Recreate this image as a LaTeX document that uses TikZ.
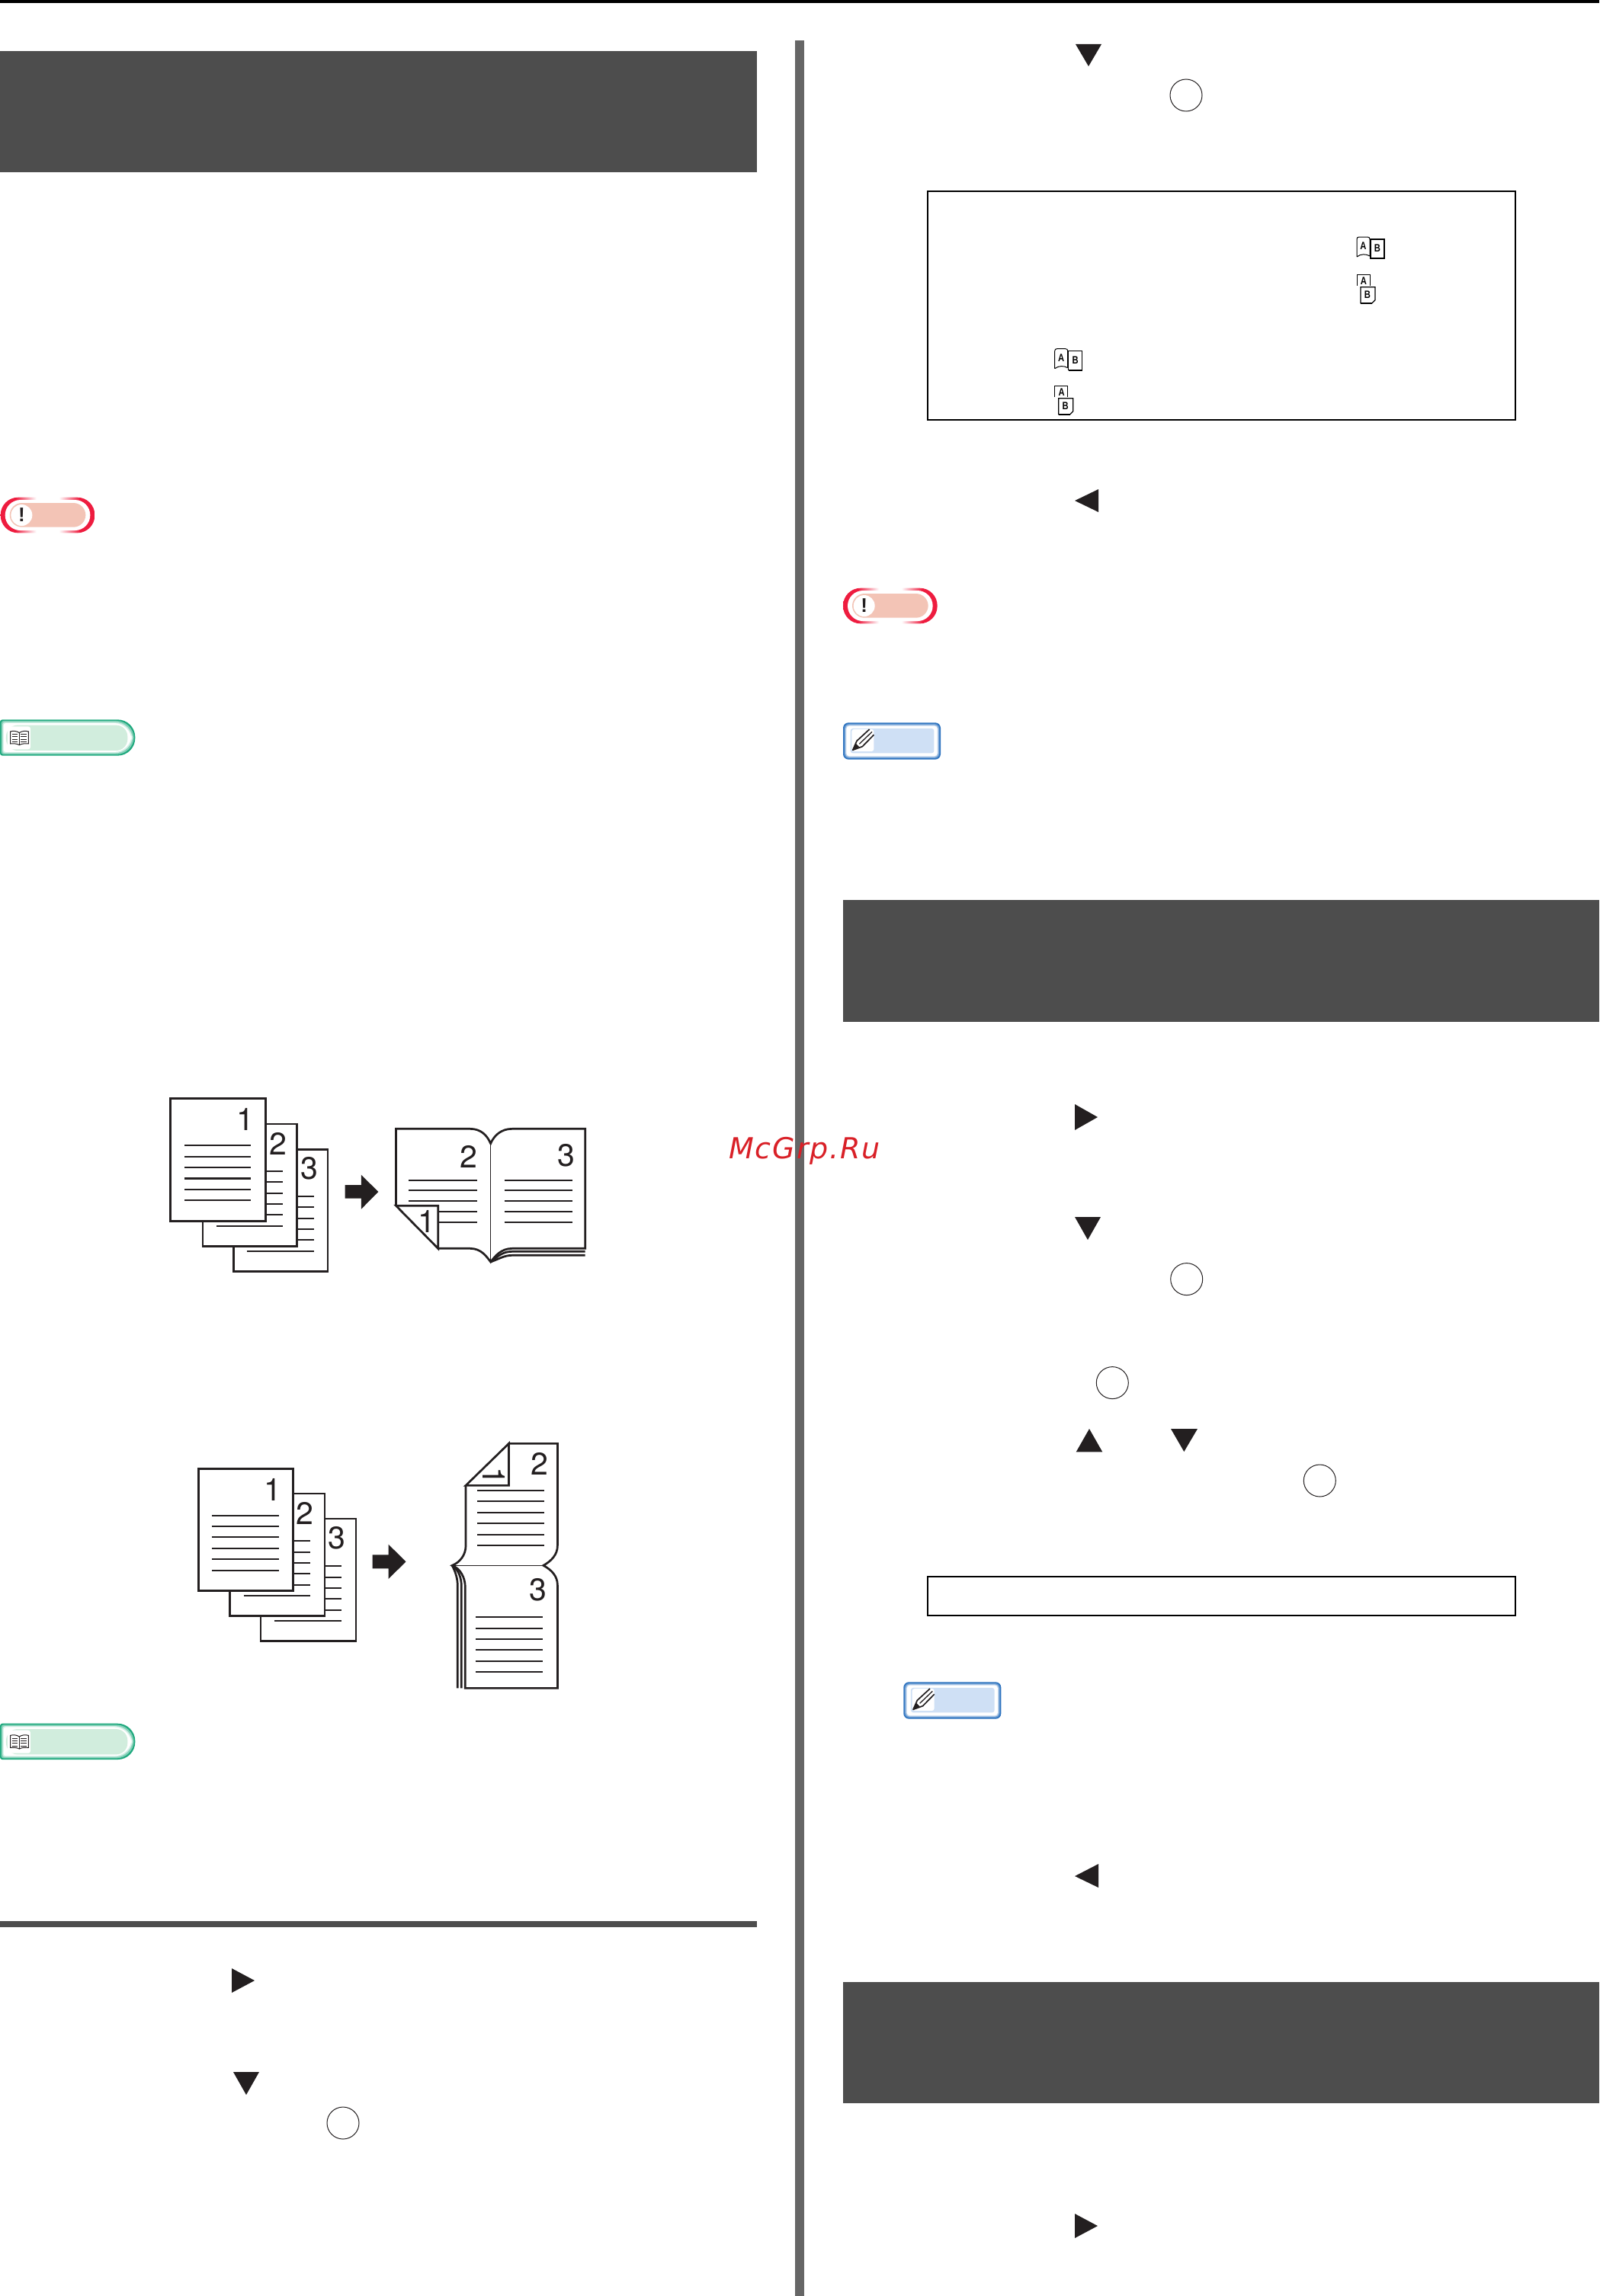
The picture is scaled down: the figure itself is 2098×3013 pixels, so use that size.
\documentclass[tikz,border=0pt]{standalone}
\usepackage{fontspec}
\setmainfont{Liberation Sans}
\newfontfamily\digitfont{TeX Gyre Heros}
\newfontfamily\wmfont[LetterSpace=5]{DejaVu Sans}
\definecolor{bandc}{HTML}{4D4D4D}
\definecolor{sepc}{HTML}{666666}
\definecolor{inkc}{HTML}{231F20}
\definecolor{notered}{HTML}{EE1C3F}
\definecolor{notepink}{HTML}{F3C4B6}
\definecolor{memoblue}{HTML}{2F74C0}
\definecolor{memopale}{HTML}{CFE0F5}
\definecolor{refgreen}{HTML}{1FA97E}
\definecolor{refpale}{HTML}{D1EDDD}
\definecolor{wmred}{HTML}{D92027}
\pgfdeclarehorizontalshading{notering}{100bp}{color(0bp)=(notered); color(33bp)=(notered); color(44bp)=(white); color(56bp)=(white); color(67bp)=(notered); color(100bp)=(notered)}
\newcommand{\refpill}[1]{[rounded corners=3pt] (#1,#1) -- (250,#1) [rounded corners=23pt] -- ({532-#1},#1) -- ({532-#1},{142-#1}) [rounded corners=3pt] -- (250,{142-#1}) -- (#1,{142-#1}) -- cycle}
\begin{document}
\begin{tikzpicture}[x=1pt, y=-1pt, line join=miter,
    sheet/.style = {draw=inkc, fill=white, line width=2.4pt},
    frontsheet/.style = {draw=inkc, fill=white, line width=3pt},
    textline/.style = {draw=inkc, line width=1.8pt},
    outline/.style = {draw=inkc, line width=2.7pt},
    bigarrow/.style = {fill=inkc},
    digit/.style = {inner sep=0pt, text=inkc, font=\digitfont\fontsize{41}{41}\selectfont},
    keymark/.style = {fill=inkc},
    okkey/.style = {draw=inkc, circle, line width=1pt, minimum size=42pt, inner sep=0pt},
    band/.style = {fill=bandc},
    framebox/.style = {draw=black, line width=1.5pt},
    iconletter/.style = {inner sep=0pt, xscale=.8, font=\bfseries\fontsize{14}{14}\selectfont},
    notebadge/.pic = {\begin{scope}[scale=1/3]
        \shade[shading=notering, rounded corners=23pt] (0,0) rectangle (371,140);
        \fill[white, rounded corners=20pt] (18,10) rectangle (353,130);
        \fill[notepink, rounded corners=16pt] (36,22) rectangle (335,117);
        \node[fill=white, circle, minimum size=28pt, inner sep=0pt, font=\bfseries\fontsize{26}{26}\selectfont, text=inkc] (-mark) at (83,70) {!};
    \end{scope}},
    memobadge/.pic = {\begin{scope}[scale=1/3]
        \fill[memoblue, rounded corners=7pt] (0,0) rectangle (384,145);
        \fill[memoblue!70!white, rounded corners=6pt] (5,5) rectangle (379,140);
        \fill[memoblue!30!white, rounded corners=5pt] (9,9) rectangle (375,136);
        \fill[white, rounded corners=4pt] (13,13) rectangle (371,132);
        \fill[memopale, rounded corners=3pt] (29,23) rectangle (358,120);
        \fill[white, rounded corners=3pt] (34,26) rectangle (121,113);
        \draw[inkc, line width=1.7pt, line join=round] (104,26) -- (54,72) -- (38,108) -- (76,94) -- (121,48);
        \fill[inkc] (38,108) -- (50,82) -- (64,96) -- cycle;
        \draw[inkc, line width=1.3pt] (64,84) -- (114,36);
    \end{scope}},
    refbadge/.pic = {\begin{scope}[scale=1/3]
        \fill[refgreen] \refpill{0};
        \fill[refgreen!55!white] \refpill{5};
        \fill[refgreen!20!white] \refpill{10};
        \fill[white] \refpill{14};
        \fill[refpale, rounded corners=15pt] (24,22) -- (502,22) -- (502,122) -- (24,122) -- cycle;
        \fill[white, rounded corners=3pt] (30,27) rectangle (120,117);
        \draw[inkc, line width=1pt, fill=white] (76,52) .. controls (66,44) and (50,44) .. (41,47) -- (41,95) .. controls (52,94) and (66,94) .. (76,100) .. controls (86,94) and (100,94) .. (112,95) -- (112,47) .. controls (102,44) and (86,44) .. (76,52) -- cycle;
        \draw[inkc, line width=1pt] (76,52) -- (76,100) (47,58) -- (70,58) (47,68) -- (70,68) (47,78) -- (70,78) (47,88) -- (70,88) (82,58) -- (106,58) (82,68) -- (106,68) (82,78) -- (106,78) (82,88) -- (106,88);
    \end{scope}},
    abbook/.pic = {
        \draw[black, line width=1pt] (0,26) -- (0,3) .. controls (0,1) and (1,0) .. (3,0) -- (14,0) .. controls (16,0) and (17,1) .. (17,3) -- (17,25) (0,26) .. controls (5,22) and (12,22) .. (17,25);
        \draw[black, line width=1.3pt] (18,3) rectangle (36,28);
        \draw[black, line width=2.4pt] (18,28) -- (36,28);
        \node[iconletter] (-a) at (8.5,12) {A};
        \node[iconletter] (-b) at (27,15) {B};
    },
    abstack/.pic = {
        \draw[black, line width=1pt] (0,14) -- (0,0) -- (17,0) -- (17,14);
        \draw[black, line width=1.3pt] (5,16) -- (24,16) -- (24,33) -- (20,37) -- (5,37) -- cycle;
        \draw[black, line width=2.4pt] (5,37) -- (20,37);
        \node[iconletter] (-a) at (9,8) {A};
        \node[iconletter] (-b) at (14,26) {B};
    }]
    \useasboundingbox (0,0) rectangle (2098,3013);
    \fill[white] (0,0) rectangle (2098,3013);
    % page furniture
    \fill[black] (0,0) rectangle (2098,4);
    \fill[band] (0,67) rectangle (993,226);
    \fill[band] (1106,1181) rectangle (2098,1341);
    \fill[band] (1106,2601) rectangle (2098,2760);
    \fill[bandc] (0,2521) rectangle (993,2529);
    \fill[sepc] (1043,53) rectangle (1055,3013);
    \pic (note1) at (0.7,652.7) {notebadge};
    \pic (note2) at (1106,771.7) {notebadge};
    \pic (ref1) at (0,944.3) {refbadge};
    \pic (ref2) at (0,2261.7) {refbadge};
    \pic (memo1) at (1106,948.3) {memobadge};
    \pic (memo2) at (1185.3,2207.3) {memobadge};
    \draw[framebox] (1217,251) rectangle (1988,551);
    \draw[framebox] (1217,2069) rectangle (1988,2120);
    \pic (ic1) at (1780,311) {abbook};
    \pic (ic2) at (1780,360.7) {abstack};
    \pic (ic3) at (1383.7,457.7) {abbook};
    \pic (ic4) at (1383.7,506.7) {abstack};
    % key marks, left column
    \fill[keymark] (304,2583) -- (334,2599) -- (304,2615) -- cycle;
    \fill[keymark] (306,2719) -- (340,2719) -- (323,2749) -- cycle;
    \node[okkey] (ok1) at (450,2786) {};
    % key marks, right column
    \fill[keymark] (1411,58) -- (1445,58) -- (1428,87) -- cycle;
    \node[okkey] (ok2) at (1556,125) {};
    \fill[keymark] (1441,642) -- (1441,672) -- (1410,657) -- cycle;
    \fill[keymark] (1410,1449) -- (1440,1466) -- (1410,1483) -- cycle;
    \fill[keymark] (1410,1597) -- (1444,1597) -- (1427,1627) -- cycle;
    \node[okkey] (ok3) at (1556.7,1678.6) {};
    \node[okkey] (ok4) at (1459.3,1814.6) {};
    \fill[keymark] (1411.7,1905.4) -- (1446.3,1905.4) -- (1429,1875) -- cycle;
    \fill[keymark] (1536,1875) -- (1571,1875) -- (1553.3,1905) -- cycle;
    \node[okkey] (ok5) at (1731.3,1943) {};
    \fill[keymark] (1441,2446) -- (1441,2477) -- (1410,2462) -- cycle;
    \fill[keymark] (1410,2905) -- (1440,2921) -- (1410,2937) -- cycle;
    % sheets to book
    \begin{scope}[shift={(180,1400)}, xscale=1/2.45, yscale=1/3]
        \draw[sheet] (310,325) rectangle (613,805);
        \draw[textline] (513,510) -- (568,510) (513,552) -- (568,552) (513,597) -- (568,597) (513,638) -- (568,638) (513,681) -- (568,681) (353,726) -- (568,726);
        \draw[sheet] (210,225) rectangle (513,706);
        \draw[textline] (413,410) -- (469,410) (413,453) -- (469,453) (413,497) -- (469,497) (413,540) -- (469,540) (413,582) -- (469,582) (255,627) -- (469,627);
        \draw[frontsheet] (107,123) rectangle (413,607);
        \draw[textline] (152,309) -- (366,309) (152,353) -- (366,353) (152,396) -- (366,396) (152,483) -- (366,483) (152,525) -- (366,525);
        \draw[textline, line width=2.4pt] (152,439) -- (366,439);
        \node[digit] (a1) at (347,208) {1};
        \node[digit] (a2) at (452,302) {2};
        \node[digit] (a3) at (553,400) {3};
        \fill[bigarrow] (668,465) -- (720,465) -- (720,425) -- (775,492) -- (720,560) -- (720,518) -- (668,518) -- cycle;
        \draw[outline] (832,547) -- (832,244) -- (1070,244) .. controls (1105,244) and (1125,270) .. (1136,302) .. controls (1147,270) and (1170,244) .. (1205,244) -- (1440,244) -- (1440,715) -- (1205,715) .. controls (1170,715) and (1150,745) .. (1136,768) .. controls (1122,745) and (1105,715) .. (1070,715) -- (965,715);
        \draw[outline] (832,547) -- (967,547) -- (967,715) -- cycle;
        \draw[outline, line width=1.6pt] (1136,302) -- (1136,768);
        \draw[outline] (1136,768) .. controls (1160,745) and (1175,727) .. (1205,727) -- (1440,727);
        \draw[outline] (1136,768) .. controls (1165,755) and (1180,742) .. (1205,742) -- (1440,742);
        \draw[textline] (872,447) -- (1092,447) (872,486) -- (1092,486) (872,528) -- (1092,528) (970,570) -- (1092,570) (970,612) -- (1092,612);
        \draw[textline] (1180,447) -- (1400,447) (1180,486) -- (1400,486) (1180,528) -- (1400,528) (1180,570) -- (1400,570) (1180,612) -- (1400,612);
        \node[digit] (b2) at (1066,353) {2};
        \node[digit] (b3) at (1380,348) {3};
        \node[digit] (b1) at (932,609) {1};
    \end{scope}
    \begin{scope}[shift={(220,1860)}, xscale=1/2.8, yscale=1/3]
        \draw[sheet] (342,399) rectangle (691,881);
        \draw[textline] (577,584) -- (638,584) (577,630) -- (638,630) (577,672) -- (638,672) (577,714) -- (638,714) (577,759) -- (638,759) (392,801) -- (638,801);
        \draw[sheet] (228,300) rectangle (577,781);
        \draw[textline] (462,486) -- (525,486) (462,531) -- (525,531) (462,573) -- (525,573) (462,615) -- (525,615) (462,660) -- (525,660) (279,702) -- (525,702);
        \draw[frontsheet] (112,202) rectangle (462,683);
        \draw[textline] (162,386) -- (408,386) (162,429) -- (408,429) (162,470) -- (408,470) (162,516) -- (408,516) (162,558) -- (408,558) (162,603) -- (408,603);
        \node[digit] (c1) at (385,285) {1};
        \node[digit] (c2) at (505,378) {2};
        \node[digit] (c3) at (620,476) {3};
        \fill[bigarrow] (752,541) -- (811,541) -- (811,500) -- (875,568) -- (811,636) -- (811,595) -- (752,595) -- cycle;
        \draw[outline] (1253,103) -- (1432,103) -- (1432,505) .. controls (1432,540) and (1410,565) .. (1380,583) .. controls (1410,600) and (1432,625) .. (1432,660) -- (1432,1066) -- (1093,1066) -- (1093,670) .. controls (1093,630) and (1075,595) .. (1045,583) .. controls (1075,570) and (1095,540) .. (1095,505) -- (1095,268);
        \draw[outline] (1095,268) -- (1253,103) -- (1253,268) -- cycle;
        \draw[outline, line width=1.6pt] (1045,583) -- (1380,583);
        \draw[outline] (1045,583) .. controls (1058,610) and (1065,635) .. (1065,665) -- (1065,1066);
        \draw[outline] (1045,583) .. controls (1068,600) and (1079,630) .. (1079,665) -- (1079,1066);
        \draw[textline] (1138,288) -- (1383,288) (1138,329) -- (1383,329) (1138,375) -- (1383,375) (1138,417) -- (1383,417) (1138,462) -- (1383,462) (1138,504) -- (1383,504);
        \draw[textline] (1132,786) -- (1378,786) (1132,831) -- (1378,831) (1132,873) -- (1378,873) (1132,915) -- (1378,915) (1132,960) -- (1378,960) (1132,1002) -- (1378,1002);
        \node[digit] (d2) at (1366,182) {2};
        \node[digit] (d3) at (1361,678) {3};
        \node[digit, rotate=-90] (d1) at (1199,232) {1};
    \end{scope}
    \node[inner sep=0pt, anchor=base west, text=wmred, font=\wmfont\itshape\fontsize{38}{38}\selectfont] (wm) at (956,1520) {McGrp.Ru};
\end{tikzpicture}
\end{document}
